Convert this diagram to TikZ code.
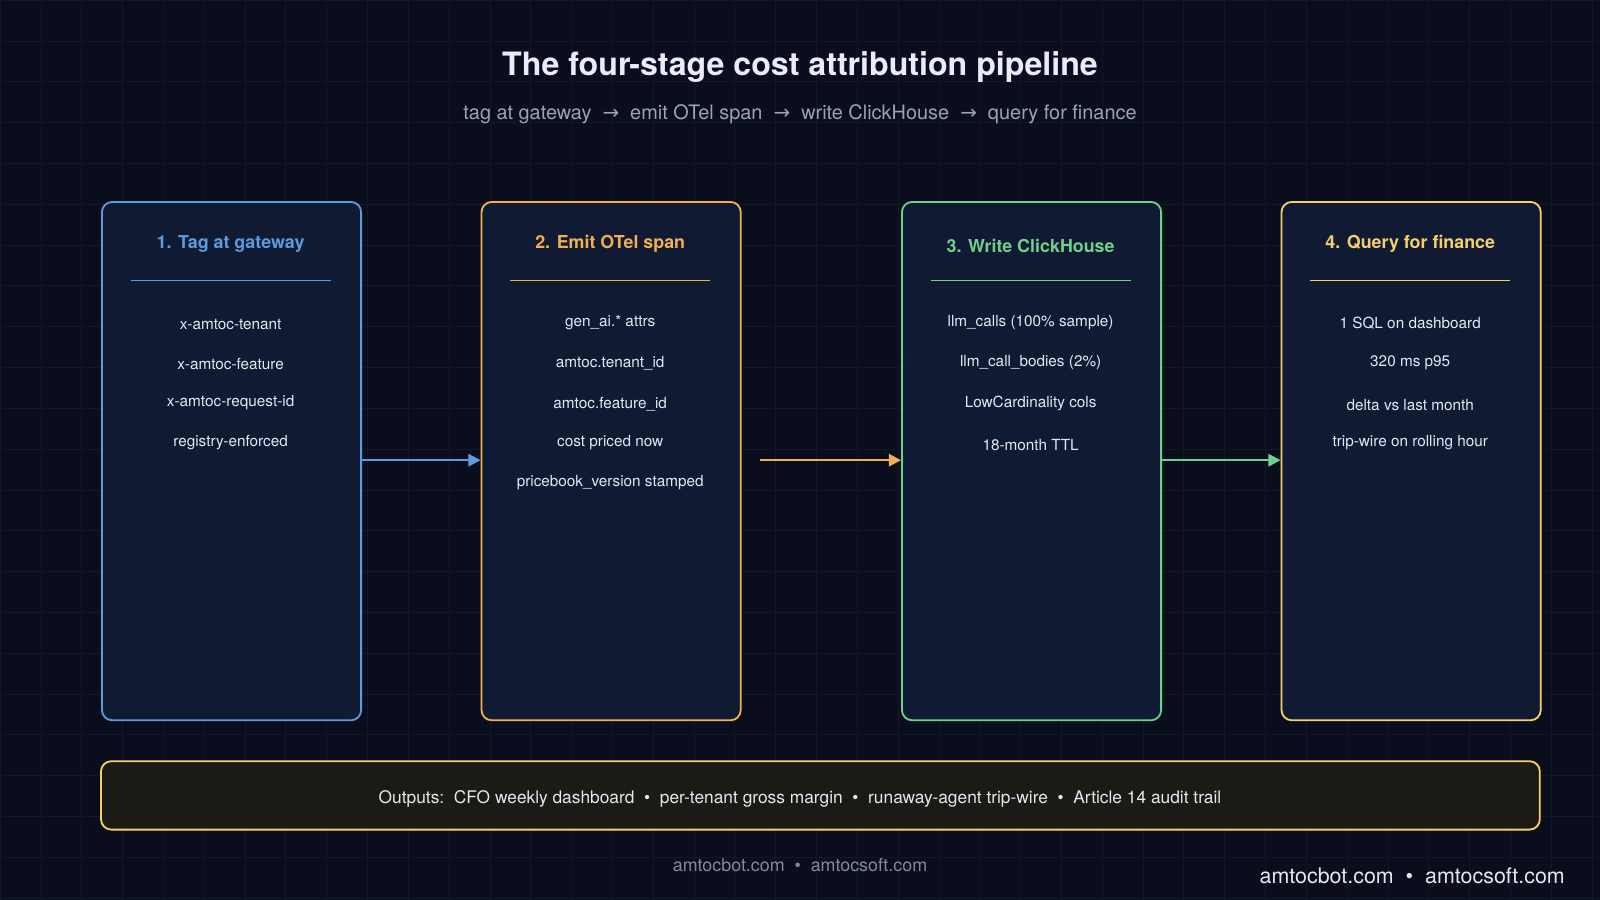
\documentclass[tikz,border=0pt]{standalone}
\usepackage{fontspec}
\setmainfont{TeX Gyre Heros}
\newfontfamily\djv{DejaVu Sans}
\usetikzlibrary{arrows.meta}
\definecolor{bg}{HTML}{0A0E1C}
\definecolor{grid}{HTML}{121829}
\definecolor{card}{HTML}{111A33}
\definecolor{cblue}{HTML}{5B9BE0}
\definecolor{corange}{HTML}{F0B050}
\definecolor{cgreen}{HTML}{6FD08A}
\definecolor{cyellow}{HTML}{F5D06A}
\definecolor{itemc}{HTML}{E4E8F0}
\definecolor{subc}{HTML}{9AA3B5}
\definecolor{barfill}{HTML}{1C1A14}
\begin{document}
\begin{tikzpicture}[x=1pt,y=-1pt,
 cardbox/.style={draw,line width=1.8pt,rounded corners=10pt,fill=card,anchor=north west,inner sep=0pt,minimum width=254pt,minimum height=508pt},
 ttl/.style={font=\bfseries\fontsize{17.5}{20}\selectfont},
 item/.style={text=itemc,font=\fontsize{15}{17}\selectfont},
 conn/.style={line width=2.5pt,-{Triangle[length=12pt,width=12pt]}}]
\fill[bg] (0,0) rectangle (1568,882);
\useasboundingbox (0,0) rectangle (1568,882);
\foreach \x in {0,40,...,1568} \draw[grid,line width=0.5pt] (\x,0)--(\x,882);
\foreach \y in {0,40,...,882} \draw[grid,line width=0.5pt] (0,\y)--(1568,\y);
\node[text=white!92!blue,font=\bfseries\fontsize{31.5}{36}\selectfont] (title) at (784,66) {The four-stage cost attribution pipeline};
\node[text=subc,font=\fontsize{19.5}{22}\selectfont] (sub) at (784,112) {tag at gateway \ {\djv →}\ \ emit OTel span \ {\djv →}\ \ write ClickHouse \ {\djv →}\ \ query for finance};
\foreach \n/\x/\c in {a/99/cblue,b/471/corange,c/883/cgreen,d/1255/cyellow}{
 \node[cardbox,draw=\c] (\n) at (\x,197) {};
 \draw[\c,line width=1.3pt] (\x+29,275)--(\x+225,275);
}
\node[ttl,text=cblue] (ta) at (226,239) {1. Tag at gateway};
\node[ttl,text=corange] (tb) at (598,239) {2. Emit OTel span};
\node[ttl,text=cgreen] (tc) at (1010,241) {3. Write ClickHouse};
\node[ttl,text=cyellow] (td) at (1382,239) {4. Query for finance};
\node[item] (a1) at (226,318) {x-amtoc-tenant};
\node[item] (a2) at (226,357) {x-amtoc-feature};
\node[item] (a3) at (226,395) {x-amtoc-request-id};
\node[item] (a4) at (226,434) {registry-enforced};
\node[item] (b1) at (598,316) {gen\_ai.* attrs};
\node[item] (b2) at (598,356) {amtoc.tenant\_id};
\node[item] (b3) at (598,396) {amtoc.feature\_id};
\node[item] (b4) at (598,434) {cost priced now};
\node[item] (b5) at (598,473) {pricebook\_version stamped};
\node[item] (c1) at (1010,316) {llm\_calls (100\% sample)};
\node[item] (c2) at (1010,355) {llm\_call\_bodies (2\%)};
\node[item] (c3) at (1010,395) {LowCardinality cols};
\node[item] (c4) at (1010,436) {18-month TTL};
\node[item] (d1) at (1382,317) {1 SQL on dashboard};
\node[item] (d2) at (1382,355) {320 ms p95};
\node[item] (d3) at (1382,397) {delta vs last month};
\node[item] (d4) at (1382,434) {trip-wire on rolling hour};
\coordinate (bs) at (745,451);
\draw[conn,cblue] (a.east |- 0,451) -- (b.west |- 0,451);
\draw[conn,corange] (bs) -- (c.west |- 0,451);
\draw[conn,cgreen] (c.east |- 0,451) -- (d.west |- 0,451);
\node[draw=cyellow,fill=barfill,line width=1.8pt,rounded corners=10pt,minimum width=1410pt,minimum height=67pt,inner sep=0pt] (bar) at (804,779.5) {};
\node[text=itemc,font=\fontsize{17}{20}\selectfont] (bt) at (784,783) {Outputs:\ \ CFO weekly dashboard \ • \ per-tenant gross margin \ • \ runaway-agent trip-wire \ • \ Article 14 audit trail};
\node[text=subc!85!black,font=\fontsize{17.5}{20}\selectfont] (f1) at (784,848) {amtocbot.com \ • \ amtocsoft.com};
\node[text=itemc,font=\fontsize{21}{25}\selectfont,anchor=east] (f2) at (1537,858) {amtocbot.com \ • \ amtocsoft.com};
\end{tikzpicture}
\end{document}
